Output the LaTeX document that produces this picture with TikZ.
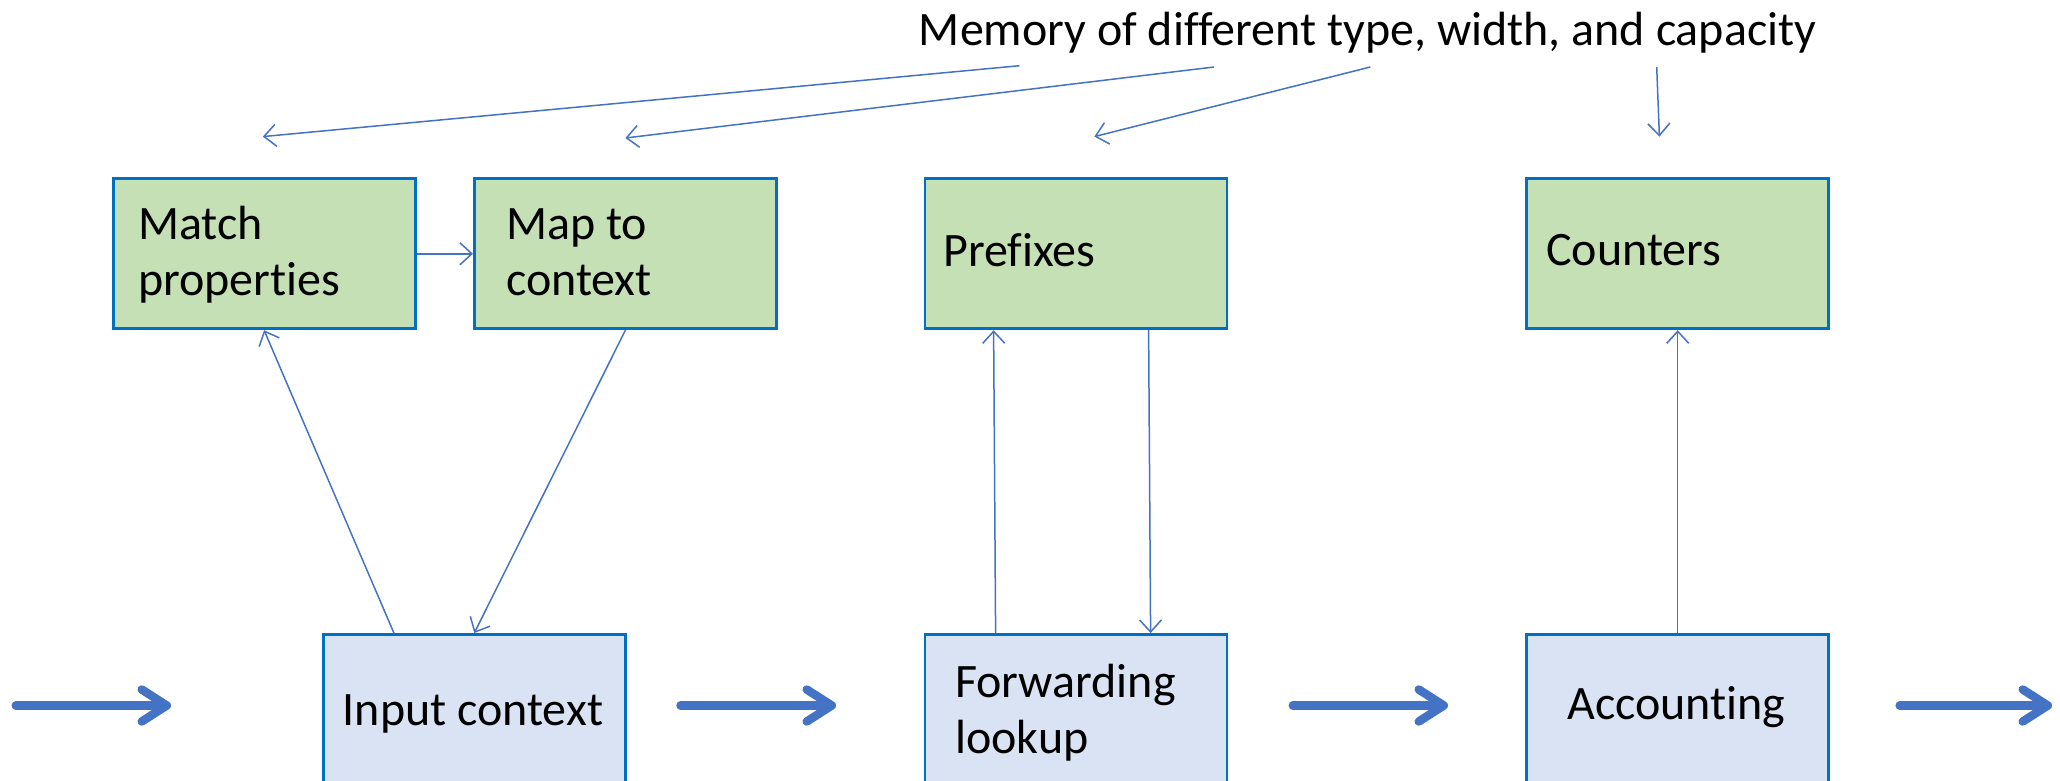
\documentclass[tikz,border=0pt]{standalone}
\usepackage{fontspec}
\setmainfont[Ligatures=NoCommon]{Carlito}
\usetikzlibrary{arrows.meta}
\definecolor{edgeblue}{RGB}{0,112,192}
\definecolor{arrowblue}{RGB}{68,114,196}
\definecolor{memgreen}{RGB}{197,224,180}
\definecolor{stageblue}{RGB}{218,227,243}
\begin{document}
\begin{tikzpicture}[x=1pt,y=-1pt,
  box/.style={draw=edgeblue,line width=2.8pt,minimum width=302pt,minimum height=150pt,inner sep=0pt,anchor=north west},
  membox/.style={box,fill=memgreen},
  stagebox/.style={box,fill=stageblue},
  lbl/.style={font=\fontsize{48}{56}\selectfont,inner sep=0pt,align=left},
  thin/.style={draw=arrowblue,line width=1.5pt,-{Straight Barb[length=12pt,width=22pt]}},
  flow/.style={draw=arrowblue,line width=8.5pt,line cap=round,-{Straight Barb[length=25pt,width=32pt,line cap=round,line join=round]}}
]
\useasboundingbox (0,0) rectangle (2060,781);
\clip (0,0) rectangle (2060,781);

% memory blocks
\node[membox] (match) at (111.7,177.4) {};
\node[membox] (map) at (473,177.4) {};
\node[membox] (pref) at (923.6,177.4) {};
\node[membox] (cnt) at (1525.3,177.4) {};

% pipeline stages
\node[stagebox] (input) at (321.9,633) {};
\node[stagebox] (fwd) at (923.6,633) {};
\node[stagebox] (acc) at (1525.3,633) {};

% labels (multi-line labels are placed by their last baseline)
\node[lbl,anchor=base] (title) at (1367.6,46) {Memory of different type, width, and capacity};
\node[lbl,anchor=base west] (match-t) at (138,295) {Match\\properties};
\node[lbl,anchor=base west] (map-t) at (506,295) {Map to\\context};
\node[lbl,anchor=base west] (pref-t) at (943,266) {Prefixes};
\node[lbl,anchor=base west] (cnt-t) at (1546,265) {Counters};
\node[lbl,anchor=base] (input-t) at (473,725) {Input context};
\node[lbl,anchor=base west] (fwd-t) at (955,753) {Forwarding\\lookup};
\node[lbl,anchor=base] (acc-t) at (1676.4,719) {Accounting};

% memory arrows from the caption
\coordinate (m1s) at (1019.5,65.7); \coordinate (m1e) at (262.8,136.6);
\coordinate (m2s) at (1214,67);     \coordinate (m2e) at (625.4,138);
\coordinate (m3s) at (1370.3,67);   \coordinate (m3e) at (1094.4,136.6);
\coordinate (m4s) at (1656.7,67);   \coordinate (m4e) at (1659.4,136.6);
\draw[thin] (m1s) -- (m1e);
\draw[thin] (m2s) -- (m2e);
\draw[thin] (m3s) -- (m3e);
\draw[thin] (m4s) -- (m4e);

% stage / memory interactions
\draw[thin] (match.east) -- (map.west);
\draw[thin] ([xshift=72pt]input.north west) -- (match.south);
\draw[thin] (map.south) -- (input.north);
\draw[thin] ([xshift=72pt]fwd.north west) -- ([xshift=70pt]pref.south west);
\draw[thin] ([xshift=225pt]pref.south west) -- ([xshift=227pt]fwd.north west);
\draw[thin] (acc.north) -- (cnt.south);

% packet flow
\coordinate (f0s) at (15.8,705.5);   \coordinate (f0e) at (171,705.5);
\coordinate (f1s) at (680.5,705.5);  \coordinate (f1e) at (836,705.5);
\coordinate (f2s) at (1292.8,705.5); \coordinate (f2e) at (1448,705.5);
\coordinate (f3s) at (1899.7,705.5); \coordinate (f3e) at (2052,705.5);
\draw[flow] (f0s) -- (f0e);
\draw[flow] (f1s) -- (f1e);
\draw[flow] (f2s) -- (f2e);
\draw[flow] (f3s) -- (f3e);
\end{tikzpicture}
\end{document}
